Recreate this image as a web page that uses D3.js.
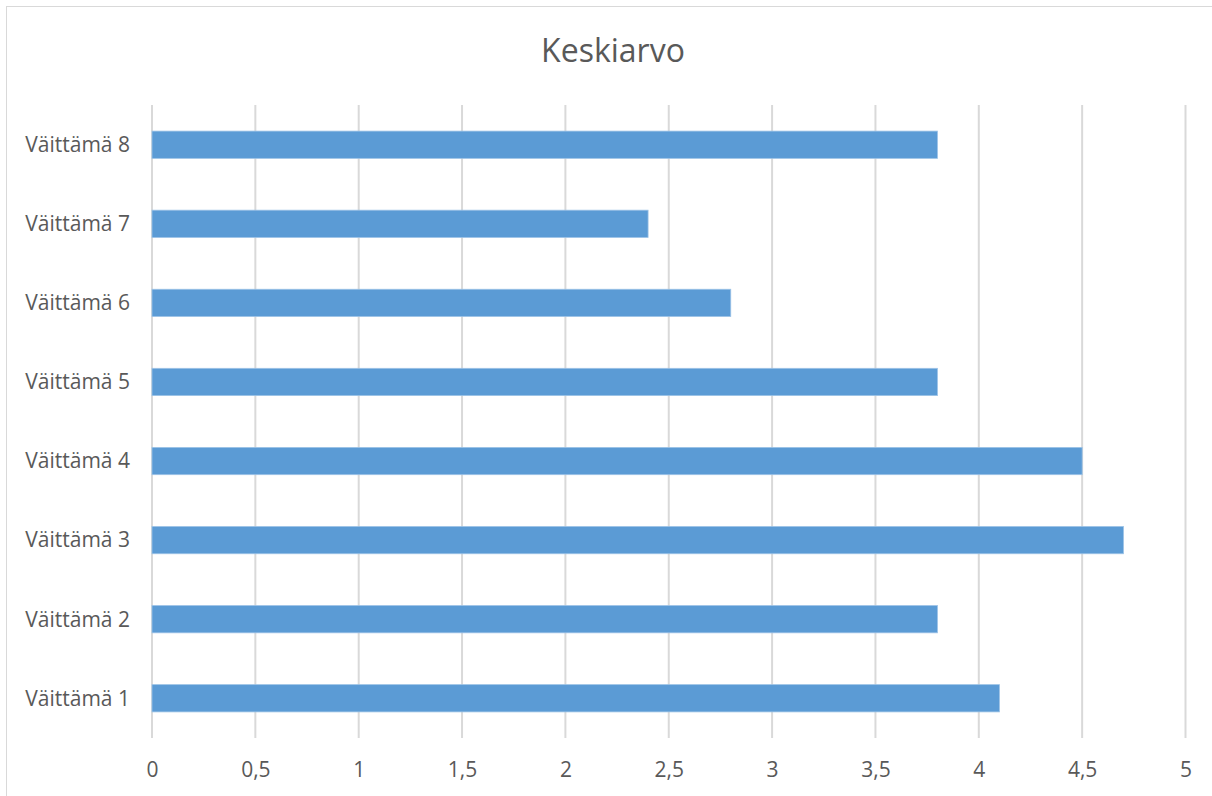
<!DOCTYPE html>
<html><head><meta charset="utf-8">
<script src="https://cdn.jsdelivr.net/npm/d3@7"></script>
<style>body{margin:0;background:#fff}svg{display:block}</style>
</head><body>
<script>
const title = "Keskiarvo";
const categories = ["Väittämä 1","Väittämä 2","Väittämä 3","Väittämä 4","Väittämä 5","Väittämä 6","Väittämä 7","Väittämä 8"];
const values = [4.1, 3.8, 4.7, 4.5, 3.8, 2.8, 2.4, 3.8];
const xTicks = [0,0.5,1,1.5,2,2.5,3,3.5,4,4.5,5];

(function(){
const W = 1212, H = 796;
const svg = d3.select("body").append("svg").attr("width", W).attr("height", H);
const font = "'Open Sans', 'Noto Sans', sans-serif";
const textColor = "#595959";

// outer border
svg.append("rect").attr("x", 6.5).attr("y", 6.5).attr("width", W + 10).attr("height", H + 10)
  .attr("fill", "none").attr("stroke", "#d9d9d9").attr("stroke-width", 1);

const mLeft = 152, mRight = 1185.5, mTop = 105, mBottom = 738;
const x = d3.scaleLinear().domain([0, 5]).range([mLeft, mRight]);
const y = d3.scaleBand().domain(categories.slice().reverse()).range([mTop, mBottom]).paddingInner(0.655).paddingOuter(0.33);

// gridlines
svg.append("g").selectAll("line").data(xTicks).join("line")
  .attr("x1", d => x(d)).attr("x2", d => x(d)).attr("y1", mTop).attr("y2", mBottom)
  .attr("stroke", "#d9d9d9").attr("stroke-width", 2);

// bars
svg.append("g").selectAll("rect").data(categories).join("rect")
  .attr("x", x(0))
  .attr("y", d => y(d))
  .attr("width", (d, i) => x(values[i]) - x(0))
  .attr("height", y.bandwidth())
  .attr("fill", "#5b9bd5")
  .attr("stroke", "#9dc3e6").attr("stroke-width", 0.8);

// x axis labels
const xAxis = d3.axisBottom(x).tickValues(xTicks).tickSize(0)
  .tickFormat(d => String(d).replace(".", ","));
const gx = svg.append("g").attr("transform", `translate(0,${mBottom})`).call(xAxis);
gx.select(".domain").remove();
gx.selectAll("text").attr("dy", 0).attr("y", 39)
  .attr("font-family", font).attr("font-size", 21).attr("fill", textColor);

// y axis labels
const yAxis = d3.axisLeft(y).tickSize(0);
const gy = svg.append("g").attr("transform", `translate(${mLeft},0)`).call(yAxis);
gy.select(".domain").remove();
gy.selectAll("text").attr("x", -22).attr("dy", "0.35em")
  .attr("font-family", font).attr("font-size", 21).attr("fill", textColor);

// title
svg.append("text").attr("x", 613).attr("y", 62).attr("text-anchor", "middle")
  .attr("font-family", font).attr("font-size", 32).attr("fill", textColor).text(title);
})();
</script>
</body></html>
